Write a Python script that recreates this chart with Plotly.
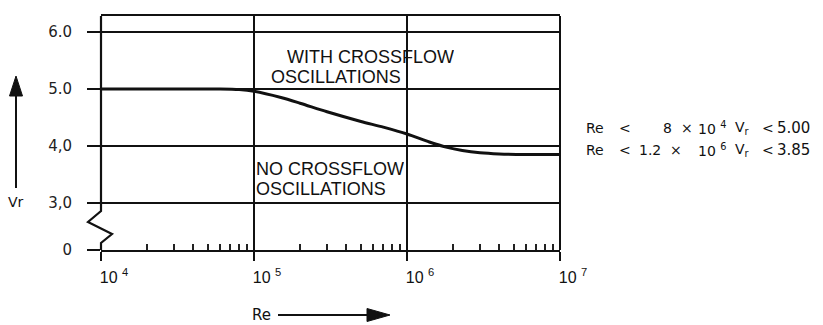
import plotly.graph_objects as go

# ---------------- data ----------------
re_vals = [1e4, 2e4, 4e4, 6e4, 8e4, 1e5, 1.5e5, 2e5, 3e5, 5e5, 7e5, 1e6,
           1.4e6, 1.8e6, 2.3e6, 3e6, 4e6, 6e6, 1e7]
vr_vals = [5.00, 5.00, 5.00, 5.00, 4.99, 4.96, 4.85, 4.75, 4.60, 4.43, 4.33, 4.21,
           4.07, 3.98, 3.92, 3.88, 3.86, 3.85, 3.85]

x_tick_vals = [1e4, 1e5, 1e6, 1e7]
x_tick_text = ["10 <sup>4</sup>", "10 <sup>5</sup>", "10 <sup>6</sup>", "10 <sup>7</sup>"]
x_minor_vals = [m * 10 ** e for e in (4, 5, 6) for m in range(2, 10)]

# broken axis: the "0" label sits just below the 3.0 line
y_tick_vals = [2.175, 3, 4, 5, 6]
y_tick_text = ["0", "3,0", "4,0", "5.0", "6.0"]

region_upper = ["WITH CROSSFLOW", "OSCILLATIONS"]
region_lower = ["NO CROSSFLOW", "OSCILLATIONS"]

limit_re_mant = ["8", "1.2"]
limit_re_exp = ["4", "6"]
limit_vr = ["5.00", "3.85"]

# ---------------- geometry helpers ----------------
W, H = 823, 325
ML, MR, MT, MB = 101, 263, 16, 75
PW, PH = W - ML - MR, H - MT - MB


def px(xp):
    return (xp - ML) / PW


def py(yp):
    return (H - MB - yp) / PH


fig = go.Figure()
fig.add_trace(go.Scatter(x=re_vals, y=vr_vals, mode="lines",
                         line=dict(color="#111", width=3, shape="spline", smoothing=0.8),
                         hoverinfo="skip"))

annotations = []


def txt(text, xp, yp, size, family, anchor="left", box_h=None):
    a = dict(text=text, x=px(xp), y=py(yp), xref="paper", yref="paper",
             xanchor=anchor, yanchor="middle", showarrow=False,
             font=dict(size=size, family=family, color="#111"))
    if box_h:
        a["height"] = box_h
    annotations.append(a)


plot_font = "Liberation Sans, Arial, sans-serif"
txt(region_upper[0], 285, 57, 18, plot_font, box_h=16)
txt(region_upper[1], 269, 77.5, 18, plot_font, box_h=16)
txt(region_lower[0], 254, 168.5, 18, plot_font, box_h=16)
txt(region_lower[1], 254, 189, 18, plot_font, box_h=16)

side_font = "DejaVu Sans, sans-serif"
for i, yc in enumerate([127.5, 149.5]):
    txt("Re", 584, yc, 14, side_font)
    txt("&lt;", 617, yc, 14, side_font)
    txt(limit_re_mant[i], 661 if i == 0 else 637, yc, 14, side_font)
    txt("×", 679 if i == 0 else 668, yc, 14, side_font)
    txt("10 <sup>" + limit_re_exp[i] + "</sup>", 696, yc, 14, side_font)
    txt("V<sub>r</sub>", 733, yc, 14, side_font)
    txt("&lt;", 760, yc, 14, side_font)
    txt(limit_vr[i], 775, yc, 15, side_font)

txt("Vr", 6, 202, 14, side_font)
txt("Re", 250, 315, 15, side_font)

shapes = []
# left axis with break zigzag
zig = [(101, 16), (101, 211), (88, 222), (112, 234), (101, 243), (101, 250)]
path = "M" + " L".join(f"{px(a):.5f},{py(b):.5f}" for a, b in zig)
shapes.append(dict(type="path", path=path, xref="paper", yref="paper",
                   line=dict(color="#111", width=2.2)))
# right border
shapes.append(dict(type="line", xref="paper", yref="paper", x0=1, x1=1, y0=0, y1=1,
                   line=dict(color="#111", width=2)))
# Vr arrow (up)
shapes.append(dict(type="line", xref="paper", yref="paper", x0=px(16), x1=px(16),
                   y0=py(188), y1=py(93), line=dict(color="#111", width=2)))
shapes.append(dict(type="path", xref="paper", yref="paper",
                   path=f"M{px(16)},{py(76)} L{px(9.5)},{py(96)} L{px(22.5)},{py(96)} Z",
                   fillcolor="#111", line=dict(color="#111", width=1)))
# Re arrow (right)
shapes.append(dict(type="line", xref="paper", yref="paper", x0=px(278), x1=px(370),
                   y0=py(315), y1=py(315), line=dict(color="#111", width=2)))
shapes.append(dict(type="path", xref="paper", yref="paper",
                   path=f"M{px(390)},{py(315)} L{px(367)},{py(308.5)} L{px(367)},{py(321.5)} Z",
                   fillcolor="#111", line=dict(color="#111", width=1)))

fig.update_layout(
    width=W, height=H,
    margin=dict(l=ML, r=MR, t=MT, b=MB),
    plot_bgcolor="white", paper_bgcolor="white",
    showlegend=False,
    annotations=annotations,
    shapes=shapes,
    xaxis=dict(type="log", range=[4, 7], tickmode="array", tickvals=x_tick_vals,
               ticktext=x_tick_text, ticks="outside", ticklen=9, tickwidth=2,
               tickcolor="#111", showgrid=True, gridcolor="#111", gridwidth=1.8,
               showline=True, linecolor="#111", linewidth=2, mirror=True,
               zeroline=False,
               tickfont=dict(family="Liberation Sans, Arial, sans-serif", size=16, color="#111"),
               ticklabelshift=13, ticklabelstandoff=3,
               minor=dict(tickmode="array", tickvals=x_minor_vals, ticks="inside",
                          ticklen=6, tickwidth=1.5, tickcolor="#222", showgrid=False)),
    yaxis=dict(range=[2.175, 6.28], tickmode="array", tickvals=y_tick_vals,
               ticktext=y_tick_text, ticks="outside", ticklen=13, tickwidth=2,
               tickcolor="#111", showgrid=True, gridcolor="#111", gridwidth=2,
               showline=False, zeroline=False,
               tickfont=dict(family="DejaVu Sans, sans-serif", size=15, color="#222"),
               ticklabelstandoff=12),
)

fig.write_html("out.html", config={"displayModeBar": False},
               post_script="document.body.style.margin='0';document.body.style.padding='0';")
